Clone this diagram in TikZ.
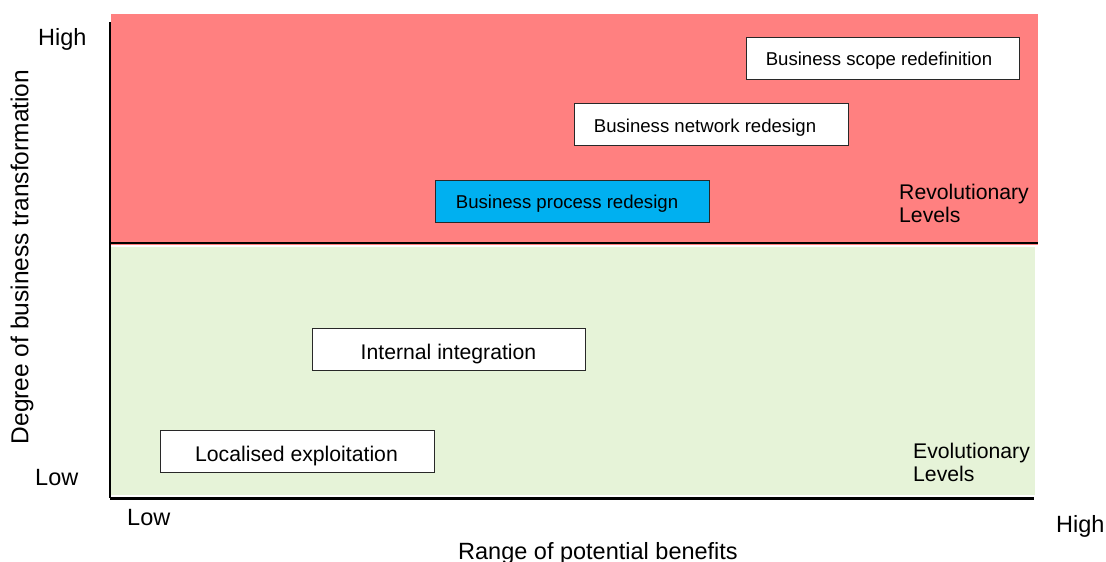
\documentclass[tikz,border=0pt]{standalone}
\usepackage{fontspec}
\setmainfont{Liberation Sans}
\definecolor{revred}{RGB}{255,128,128}
\definecolor{evogreen}{RGB}{230,243,216}
\definecolor{procblue}{RGB}{0,176,240}
\definecolor{boxline}{RGB}{40,40,40}
\begin{document}
\begin{tikzpicture}[x=1pt,y=-1pt,
  levelbox/.style={draw=boxline,line width=1pt,fill=white,inner sep=0pt,anchor=north west},
  smalltxt/.style={font=\fontsize{18.6}{22}\selectfont,inner sep=0pt,anchor=base},
  midtxt/.style={font=\fontsize{21.2}{24}\selectfont,inner sep=0pt,anchor=base},
  axtxt/.style={font=\fontsize{23.5}{27}\selectfont,inner sep=0pt},
  lvltxt/.style={font=\fontsize{21.2}{22.5}\selectfont,inner sep=0pt,align=left,anchor=base west}]
\useasboundingbox (0,0) rectangle (1106,562);
% regions
\fill[revred] (111,14) rectangle (1038,245);
\fill[evogreen] (111,247) rectangle (1035,495);
% axes
\coordinate (yTop) at (110,22);
\coordinate (org) at (110,498);
\coordinate (xEnd) at (1034,498);
\coordinate (mL) at (111,243);
\coordinate (mR) at (1038,243);
\draw[line width=2pt] (yTop) -- (org);
\draw[line width=3pt] (org) -- (xEnd);
\draw[line width=2pt] (mL) -- (mR);
% boxes
\node[levelbox,minimum width=273pt,minimum height=42pt] (bsr) at (746,37) {};
\node[smalltxt] (bsrt) at (879,65) {Business scope redefinition};
\node[levelbox,minimum width=274pt,minimum height=42pt] (bnr) at (574,103) {};
\node[smalltxt] (bnrt) at (705,132) {Business network redesign};
\node[levelbox,fill=procblue,minimum width=274pt,minimum height=42pt] (bpr) at (435,180) {};
\node[smalltxt] (bprt) at (567,208) {Business process redesign};
\node[levelbox,minimum width=273pt,minimum height=42pt] (ii) at (312,328) {};
\node[midtxt] (iit) at (448.5,359) {Internal integration};
\node[levelbox,minimum width=274pt,minimum height=42pt] (le) at (160,430) {};
\node[midtxt] (let) at (296.5,461) {Localised exploitation};
% level labels
\node[lvltxt] (rev) at (899,222) {Revolutionary\\Levels};
\node[lvltxt] (evo) at (913,481) {Evolutionary\\Levels};
% axis labels
\node[axtxt,anchor=base west] (yhigh) at (38,45) {High};
\node[axtxt,anchor=base west] (ylow) at (35,485) {Low};
\node[axtxt,anchor=base west] (xlow) at (127,525) {Low};
\node[axtxt,anchor=base west] (xhigh) at (1056,532) {High};
\node[axtxt,anchor=base] (xtitle) at (598,559) {Range of potential benefits};
\node[font=\fontsize{24.5}{28}\selectfont,inner sep=0pt,rotate=90] (ytitle) at (22,257) {Degree of business transformation};
\end{tikzpicture}
\end{document}
